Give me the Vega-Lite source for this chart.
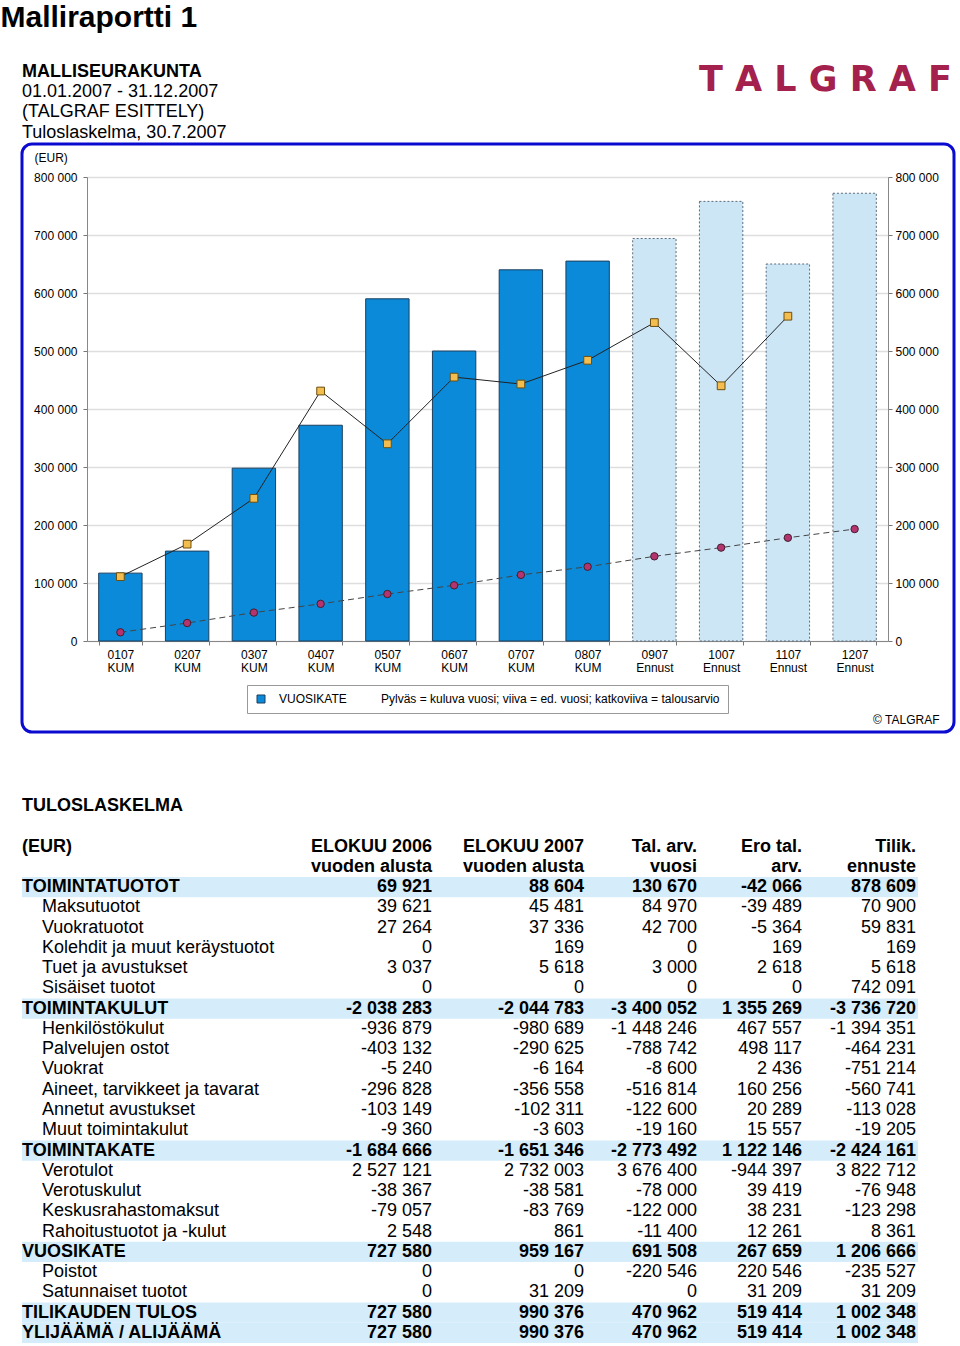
{
  "$schema": "https://vega.github.io/schema/vega-lite/v6.json",
  "background": "white",
  "padding": {"left": 0, "top": 2, "right": 0, "bottom": 0},
  "config": {
    "font": "Liberation Sans",
    "locale": {"number": {"decimal": ",", "thousands": " ", "grouping": [3], "currency": ["", " €"], "minus": "-"}},
    "view": {"stroke": null},
    "title": {"color": "black"},
    "axis": {"labelColor": "black", "titleColor": "black", "labelFont": "Liberation Sans", "titleFont": "Liberation Sans"},
    "legend": {"labelColor": "black", "titleColor": "black"}
  },
  "title": {"text": "Malliraportti 1", "anchor": "start", "fontSize": 30, "fontWeight": "bold", "dx": -20, "offset": 30},
  "spacing": 0,
  "vconcat": [
    {
      "spacing": 0,
      "hconcat": [
        {
          "width": 600,
          "height": 1,
          "title": {
            "text": "MALLISEURAKUNTA",
            "subtitle": ["01.01.2007 - 31.12.2007", "(TALGRAF ESITTELY)", "Tuloslaskelma, 30.7.2007"],
            "anchor": "start", "frame": "group",
            "fontSize": 18, "fontWeight": "bold",
            "subtitleFontSize": 18, "subtitleFontWeight": "normal", "subtitleColor": "black",
            "subtitleLineHeight": 20.5, "subtitlePadding": 2, "offset": -12
          },
          "data": {"values": [{"tunnus": "otsikko"}]},
          "mark": {"type": "text"},
          "encoding": {"text": {"value": ""}}
        },
        {
          "width": 330,
          "height": 1,
          "title": {
            "text": "T A L G R A F", "anchor": "end", "frame": "group",
            "font": "DejaVu Sans", "fontSize": 35, "fontWeight": "bold", "color": "#a3214c", "offset": 32
          },
          "data": {"values": [{"tunnus": "logo"}]},
          "mark": {"type": "text"},
          "encoding": {"text": {"value": ""}}
        }
      ]
    },
    {
      "spacing": 62,
      "vconcat": [
        {
          "width": 932,
          "height": 588,
          "view": {"stroke": "#0a0ad0", "strokeWidth": 3, "cornerRadius": 10, "fill": "white"},
          "data": {"values": [
            {"kk": "0107 KUM", "tyyppi": "KUM", "sarja": "VUOSIKATE", "vk": 117000, "ed": 111000, "ta": 15000},
            {"kk": "0207 KUM", "tyyppi": "KUM", "sarja": "VUOSIKATE", "vk": 155000, "ed": 167000, "ta": 31000},
            {"kk": "0307 KUM", "tyyppi": "KUM", "sarja": "VUOSIKATE", "vk": 298000, "ed": 246000, "ta": 49000},
            {"kk": "0407 KUM", "tyyppi": "KUM", "sarja": "VUOSIKATE", "vk": 372000, "ed": 431000, "ta": 64000},
            {"kk": "0507 KUM", "tyyppi": "KUM", "sarja": "VUOSIKATE", "vk": 590000, "ed": 340000, "ta": 81000},
            {"kk": "0607 KUM", "tyyppi": "KUM", "sarja": "VUOSIKATE", "vk": 500000, "ed": 455000, "ta": 96000},
            {"kk": "0707 KUM", "tyyppi": "KUM", "sarja": "VUOSIKATE", "vk": 640000, "ed": 443000, "ta": 114000},
            {"kk": "0807 KUM", "tyyppi": "KUM", "sarja": "VUOSIKATE", "vk": 655000, "ed": 484000, "ta": 128000},
            {"kk": "0907 Ennust", "tyyppi": "Ennust", "sarja": "VUOSIKATE", "vk": 694000, "ed": 549000, "ta": 146000},
            {"kk": "1007 Ennust", "tyyppi": "Ennust", "sarja": "VUOSIKATE", "vk": 758000, "ed": 440000, "ta": 161000},
            {"kk": "1107 Ennust", "tyyppi": "Ennust", "sarja": "VUOSIKATE", "vk": 650000, "ed": 560000, "ta": 178000},
            {"kk": "1207 Ennust", "tyyppi": "Ennust", "sarja": "VUOSIKATE", "vk": 772000, "ed": null, "ta": 193000}
          ]},
          "encoding": {
            "x": {
              "field": "kk", "type": "nominal", "sort": null,
              "scale": {"domain": ["0107 KUM", "0207 KUM", "0307 KUM", "0407 KUM", "0507 KUM", "0607 KUM", "0707 KUM", "0807 KUM", "0907 Ennust", "1007 Ennust", "1107 Ennust", "1207 Ennust"], "range": [65, 866], "paddingInner": 0.35, "paddingOuter": 0.175},
              "axis": {
                "orient": "bottom", "offset": -91, "labelAngle": 0,
                "labelExpr": "split(datum.label, ' ')", "labelFontSize": 12, "labelLineHeight": 13, "labelPadding": 4,
                "tickBand": "extent", "tickSize": 4, "tickColor": "#777777", "domainColor": "#888888",
                "grid": false,
                "title": "© TALGRAF", "titleX": 917, "titleY": 82, "titleAlign": "right", "titleAnchor": null,
                "titleBaseline": "alphabetic", "titleFontSize": 12, "titleFontWeight": "normal"
              }
            }
          },
          "resolve": {"scale": {"y": "shared"}, "axis": {"y": "independent"}},
          "layer": [
            {
              "transform": [{"filter": "datum.tyyppi == 'KUM'"}],
              "mark": {"type": "bar", "stroke": "#1d3f5e", "strokeWidth": 1},
              "encoding": {
                "y": {
                  "field": "vk", "type": "quantitative",
                  "scale": {"domain": [0, 800000], "range": [497, 33], "nice": false},
                  "axis": {
                    "orient": "left", "offset": -65,
                    "values": [0, 100000, 200000, 300000, 400000, 500000, 600000, 700000, 800000],
                    "format": ",d", "labelFontSize": 12, "labelPadding": 6, "tickSize": 4,
                    "tickColor": "#777777", "domainColor": "#888888",
                    "grid": true, "gridColor": "#dedede", "gridWidth": 1.5,
                    "title": "(EUR)", "titleAngle": 0, "titleX": -53, "titleY": 13, "titleAlign": "left",
                    "titleBaseline": "middle", "titleFontSize": 12, "titleFontWeight": "normal"
                  }
                },
                "color": {
                  "field": "sarja", "type": "nominal",
                  "scale": {"domain": ["VUOSIKATE"], "range": ["#0a8ad8"]},
                  "legend": {
                    "orient": "none", "legendX": 225, "legendY": 550, "direction": "horizontal",
                    "title": "Pylväs = kuluva vuosi; viiva = ed. vuosi; katkoviiva = talousarvio",
                    "titleOrient": "right", "titleFontWeight": "normal", "titleFontSize": 12,
                    "titlePadding": 34, "titleLimit": 600, "titleBaseline": "middle",
                    "labelFontSize": 12, "symbolType": "square", "symbolSize": 64,
                    "symbolStrokeColor": "#1d3f5e", "symbolStrokeWidth": 1, "labelOffset": 12,
                    "padding": 8, "strokeColor": "#999999", "fillColor": "white"
                  }
                }
              }
            },
            {
              "transform": [{"filter": "datum.tyyppi == 'Ennust'"}],
              "mark": {"type": "bar", "fill": "#cde6f6", "stroke": "#5a6a7a", "strokeWidth": 1, "strokeDash": [2, 2]},
              "encoding": {
                "y": {
                  "field": "vk", "type": "quantitative",
                  "scale": {"domain": [0, 800000], "range": [497, 33], "nice": false},
                  "axis": {
                    "orient": "right", "offset": -66,
                    "values": [0, 100000, 200000, 300000, 400000, 500000, 600000, 700000, 800000],
                    "format": ",d", "labelFontSize": 12, "labelPadding": 3, "tickSize": 4,
                    "tickColor": "#777777", "domainColor": "#888888", "grid": false, "title": null
                  }
                }
              }
            },
            {
              "mark": {"type": "line", "color": "#222222", "strokeWidth": 1},
              "encoding": {"y": {"field": "ed", "type": "quantitative", "scale": {"domain": [0, 800000], "range": [497, 33], "nice": false}, "axis": null}}
            },
            {
              "mark": {"type": "point", "shape": "square", "filled": true, "fill": "#f4bd4f", "stroke": "#6b4f10", "strokeWidth": 1, "size": 60, "opacity": 1},
              "encoding": {"y": {"field": "ed", "type": "quantitative", "scale": {"domain": [0, 800000], "range": [497, 33], "nice": false}, "axis": null}}
            },
            {
              "mark": {"type": "line", "color": "#444444", "strokeWidth": 1, "strokeDash": [6, 4]},
              "encoding": {"y": {"field": "ta", "type": "quantitative", "scale": {"domain": [0, 800000], "range": [497, 33], "nice": false}, "axis": null}}
            },
            {
              "mark": {"type": "point", "shape": "circle", "filled": true, "fill": "#b4346f", "stroke": "#40202f", "strokeWidth": 1, "size": 55, "opacity": 1},
              "encoding": {"y": {"field": "ta", "type": "quantitative", "scale": {"domain": [0, 800000], "range": [497, 33], "nice": false}, "axis": null}}
            }
          ]
        },
        {
          "title": {"text": "TULOSLASKELMA", "anchor": "start", "fontSize": 18, "fontWeight": "bold", "offset": 23},
          "spacing": 0,
          "data": {"values": [
            {"nro": 1, "rivi": "TOIMINTATUOTOT", "lvl": 0, "c1": 69921, "c2": 88604, "c3": 130670, "c4": -42066, "c5": 878609},
            {"nro": 2, "rivi": "Maksutuotot", "lvl": 1, "c1": 39621, "c2": 45481, "c3": 84970, "c4": -39489, "c5": 70900},
            {"nro": 3, "rivi": "Vuokratuotot", "lvl": 1, "c1": 27264, "c2": 37336, "c3": 42700, "c4": -5364, "c5": 59831},
            {"nro": 4, "rivi": "Kolehdit ja muut keräystuotot", "lvl": 1, "c1": 0, "c2": 169, "c3": 0, "c4": 169, "c5": 169},
            {"nro": 5, "rivi": "Tuet ja avustukset", "lvl": 1, "c1": 3037, "c2": 5618, "c3": 3000, "c4": 2618, "c5": 5618},
            {"nro": 6, "rivi": "Sisäiset tuotot", "lvl": 1, "c1": 0, "c2": 0, "c3": 0, "c4": 0, "c5": 742091},
            {"nro": 7, "rivi": "TOIMINTAKULUT", "lvl": 0, "c1": -2038283, "c2": -2044783, "c3": -3400052, "c4": 1355269, "c5": -3736720},
            {"nro": 8, "rivi": "Henkilöstökulut", "lvl": 1, "c1": -936879, "c2": -980689, "c3": -1448246, "c4": 467557, "c5": -1394351},
            {"nro": 9, "rivi": "Palvelujen ostot", "lvl": 1, "c1": -403132, "c2": -290625, "c3": -788742, "c4": 498117, "c5": -464231},
            {"nro": 10, "rivi": "Vuokrat", "lvl": 1, "c1": -5240, "c2": -6164, "c3": -8600, "c4": 2436, "c5": -751214},
            {"nro": 11, "rivi": "Aineet, tarvikkeet ja tavarat", "lvl": 1, "c1": -296828, "c2": -356558, "c3": -516814, "c4": 160256, "c5": -560741},
            {"nro": 12, "rivi": "Annetut avustukset", "lvl": 1, "c1": -103149, "c2": -102311, "c3": -122600, "c4": 20289, "c5": -113028},
            {"nro": 13, "rivi": "Muut toimintakulut", "lvl": 1, "c1": -9360, "c2": -3603, "c3": -19160, "c4": 15557, "c5": -19205},
            {"nro": 14, "rivi": "TOIMINTAKATE", "lvl": 0, "c1": -1684666, "c2": -1651346, "c3": -2773492, "c4": 1122146, "c5": -2424161},
            {"nro": 15, "rivi": "Verotulot", "lvl": 1, "c1": 2527121, "c2": 2732003, "c3": 3676400, "c4": -944397, "c5": 3822712},
            {"nro": 16, "rivi": "Verotuskulut", "lvl": 1, "c1": -38367, "c2": -38581, "c3": -78000, "c4": 39419, "c5": -76948},
            {"nro": 17, "rivi": "Keskusrahastomaksut", "lvl": 1, "c1": -79057, "c2": -83769, "c3": -122000, "c4": 38231, "c5": -123298},
            {"nro": 18, "rivi": "Rahoitustuotot ja -kulut", "lvl": 1, "c1": 2548, "c2": 861, "c3": -11400, "c4": 12261, "c5": 8361},
            {"nro": 19, "rivi": "VUOSIKATE", "lvl": 0, "c1": 727580, "c2": 959167, "c3": 691508, "c4": 267659, "c5": 1206666},
            {"nro": 20, "rivi": "Poistot", "lvl": 1, "c1": 0, "c2": 0, "c3": -220546, "c4": 220546, "c5": -235527},
            {"nro": 21, "rivi": "Satunnaiset tuotot", "lvl": 1, "c1": 0, "c2": 31209, "c3": 0, "c4": 31209, "c5": 31209},
            {"nro": 22, "rivi": "TILIKAUDEN TULOS", "lvl": 0, "c1": 727580, "c2": 990376, "c3": 470962, "c4": 519414, "c5": 1002348},
            {"nro": 23, "rivi": "YLIJÄÄMÄ / ALIJÄÄMÄ", "lvl": 0, "c1": 727580, "c2": 990376, "c3": 470962, "c4": 519414, "c5": 1002348}
          ]},
          "hconcat": [
            {
              "width": 280, "height": 466,
              "title": {"text": ["(EUR)", " "], "anchor": "start", "align": "left", "frame": "group", "fontSize": 18, "fontWeight": "bold", "lineHeight": 20.5, "offset": 1},
              "encoding": {
                "y": {"field": "nro", "type": "ordinal", "axis": null, "scale": {"paddingInner": 0, "paddingOuter": 0}}
              },
              "layer": [
                {"mark": {"type": "rect"}, "encoding": {"x": {"datum": 0, "type": "quantitative", "scale": {"domain": [0, 1]}, "axis": null}, "x2": {"datum": 1}, "color": {"condition": {"test": "datum.lvl == 0", "value": "#d5edfa"}, "value": "transparent"}}},
                {"transform": [{"filter": "datum.lvl == 0"}], "mark": {"type": "text", "align": "left", "baseline": "middle", "fontSize": 18, "fontWeight": "bold", "color": "black"}, "encoding": {"x": {"datum": 0, "type": "quantitative", "scale": {"domain": [0, 1]}, "axis": null}, "text": {"field": "rivi"}}},
                {"transform": [{"filter": "datum.lvl == 1"}], "mark": {"type": "text", "align": "left", "baseline": "middle", "fontSize": 18, "dx": 20, "color": "black"}, "encoding": {"x": {"datum": 0, "type": "quantitative", "scale": {"domain": [0, 1]}, "axis": null}, "text": {"field": "rivi"}}}
              ]
            },
            {
              "width": 132, "height": 466,
              "title": {"text": ["ELOKUU 2006", "vuoden alusta"], "anchor": "end", "align": "right", "frame": "group", "dx": -2, "fontSize": 18, "fontWeight": "bold", "lineHeight": 20.5, "offset": 1},
              "encoding": {
                "y": {"field": "nro", "type": "ordinal", "axis": null, "scale": {"paddingInner": 0, "paddingOuter": 0}}
              },
              "layer": [
                {"mark": {"type": "rect"}, "encoding": {"x": {"datum": 0, "type": "quantitative", "scale": {"domain": [0, 1]}, "axis": null}, "x2": {"datum": 1}, "color": {"condition": {"test": "datum.lvl == 0", "value": "#d5edfa"}, "value": "transparent"}}},
                {"transform": [{"filter": "datum.lvl == 0"}], "mark": {"type": "text", "align": "right", "baseline": "middle", "fontSize": 18, "fontWeight": "bold", "dx": -2, "color": "black"}, "encoding": {"x": {"datum": 1, "type": "quantitative", "scale": {"domain": [0, 1]}, "axis": null}, "text": {"field": "c1", "format": ",d"}}},
                {"transform": [{"filter": "datum.lvl == 1"}], "mark": {"type": "text", "align": "right", "baseline": "middle", "fontSize": 18, "dx": -2, "color": "black"}, "encoding": {"x": {"datum": 1, "type": "quantitative", "scale": {"domain": [0, 1]}, "axis": null}, "text": {"field": "c1", "format": ",d"}}}
              ]
            },
            {
              "width": 152, "height": 466,
              "title": {"text": ["ELOKUU 2007", "vuoden alusta"], "anchor": "end", "align": "right", "frame": "group", "dx": -2, "fontSize": 18, "fontWeight": "bold", "lineHeight": 20.5, "offset": 1},
              "encoding": {
                "y": {"field": "nro", "type": "ordinal", "axis": null, "scale": {"paddingInner": 0, "paddingOuter": 0}}
              },
              "layer": [
                {"mark": {"type": "rect"}, "encoding": {"x": {"datum": 0, "type": "quantitative", "scale": {"domain": [0, 1]}, "axis": null}, "x2": {"datum": 1}, "color": {"condition": {"test": "datum.lvl == 0", "value": "#d5edfa"}, "value": "transparent"}}},
                {"transform": [{"filter": "datum.lvl == 0"}], "mark": {"type": "text", "align": "right", "baseline": "middle", "fontSize": 18, "fontWeight": "bold", "dx": -2, "color": "black"}, "encoding": {"x": {"datum": 1, "type": "quantitative", "scale": {"domain": [0, 1]}, "axis": null}, "text": {"field": "c2", "format": ",d"}}},
                {"transform": [{"filter": "datum.lvl == 1"}], "mark": {"type": "text", "align": "right", "baseline": "middle", "fontSize": 18, "dx": -2, "color": "black"}, "encoding": {"x": {"datum": 1, "type": "quantitative", "scale": {"domain": [0, 1]}, "axis": null}, "text": {"field": "c2", "format": ",d"}}}
              ]
            },
            {
              "width": 113, "height": 466,
              "title": {"text": ["Tal. arv.", "vuosi"], "anchor": "end", "align": "right", "frame": "group", "dx": -2, "fontSize": 18, "fontWeight": "bold", "lineHeight": 20.5, "offset": 1},
              "encoding": {
                "y": {"field": "nro", "type": "ordinal", "axis": null, "scale": {"paddingInner": 0, "paddingOuter": 0}}
              },
              "layer": [
                {"mark": {"type": "rect"}, "encoding": {"x": {"datum": 0, "type": "quantitative", "scale": {"domain": [0, 1]}, "axis": null}, "x2": {"datum": 1}, "color": {"condition": {"test": "datum.lvl == 0", "value": "#d5edfa"}, "value": "transparent"}}},
                {"transform": [{"filter": "datum.lvl == 0"}], "mark": {"type": "text", "align": "right", "baseline": "middle", "fontSize": 18, "fontWeight": "bold", "dx": -2, "color": "black"}, "encoding": {"x": {"datum": 1, "type": "quantitative", "scale": {"domain": [0, 1]}, "axis": null}, "text": {"field": "c3", "format": ",d"}}},
                {"transform": [{"filter": "datum.lvl == 1"}], "mark": {"type": "text", "align": "right", "baseline": "middle", "fontSize": 18, "dx": -2, "color": "black"}, "encoding": {"x": {"datum": 1, "type": "quantitative", "scale": {"domain": [0, 1]}, "axis": null}, "text": {"field": "c3", "format": ",d"}}}
              ]
            },
            {
              "width": 105, "height": 466,
              "title": {"text": ["Ero tal.", "arv."], "anchor": "end", "align": "right", "frame": "group", "dx": -2, "fontSize": 18, "fontWeight": "bold", "lineHeight": 20.5, "offset": 1},
              "encoding": {
                "y": {"field": "nro", "type": "ordinal", "axis": null, "scale": {"paddingInner": 0, "paddingOuter": 0}}
              },
              "layer": [
                {"mark": {"type": "rect"}, "encoding": {"x": {"datum": 0, "type": "quantitative", "scale": {"domain": [0, 1]}, "axis": null}, "x2": {"datum": 1}, "color": {"condition": {"test": "datum.lvl == 0", "value": "#d5edfa"}, "value": "transparent"}}},
                {"transform": [{"filter": "datum.lvl == 0"}], "mark": {"type": "text", "align": "right", "baseline": "middle", "fontSize": 18, "fontWeight": "bold", "dx": -2, "color": "black"}, "encoding": {"x": {"datum": 1, "type": "quantitative", "scale": {"domain": [0, 1]}, "axis": null}, "text": {"field": "c4", "format": ",d"}}},
                {"transform": [{"filter": "datum.lvl == 1"}], "mark": {"type": "text", "align": "right", "baseline": "middle", "fontSize": 18, "dx": -2, "color": "black"}, "encoding": {"x": {"datum": 1, "type": "quantitative", "scale": {"domain": [0, 1]}, "axis": null}, "text": {"field": "c4", "format": ",d"}}}
              ]
            },
            {
              "width": 114, "height": 466,
              "title": {"text": ["Tilik.", "ennuste"], "anchor": "end", "align": "right", "frame": "group", "dx": -2, "fontSize": 18, "fontWeight": "bold", "lineHeight": 20.5, "offset": 1},
              "encoding": {
                "y": {"field": "nro", "type": "ordinal", "axis": null, "scale": {"paddingInner": 0, "paddingOuter": 0}}
              },
              "layer": [
                {"mark": {"type": "rect"}, "encoding": {"x": {"datum": 0, "type": "quantitative", "scale": {"domain": [0, 1]}, "axis": null}, "x2": {"datum": 1}, "color": {"condition": {"test": "datum.lvl == 0", "value": "#d5edfa"}, "value": "transparent"}}},
                {"transform": [{"filter": "datum.lvl == 0"}], "mark": {"type": "text", "align": "right", "baseline": "middle", "fontSize": 18, "fontWeight": "bold", "dx": -2, "color": "black"}, "encoding": {"x": {"datum": 1, "type": "quantitative", "scale": {"domain": [0, 1]}, "axis": null}, "text": {"field": "c5", "format": ",d"}}},
                {"transform": [{"filter": "datum.lvl == 1"}], "mark": {"type": "text", "align": "right", "baseline": "middle", "fontSize": 18, "dx": -2, "color": "black"}, "encoding": {"x": {"datum": 1, "type": "quantitative", "scale": {"domain": [0, 1]}, "axis": null}, "text": {"field": "c5", "format": ",d"}}}
              ]
            }
          ]
        }
      ]
    }
  ]
}
